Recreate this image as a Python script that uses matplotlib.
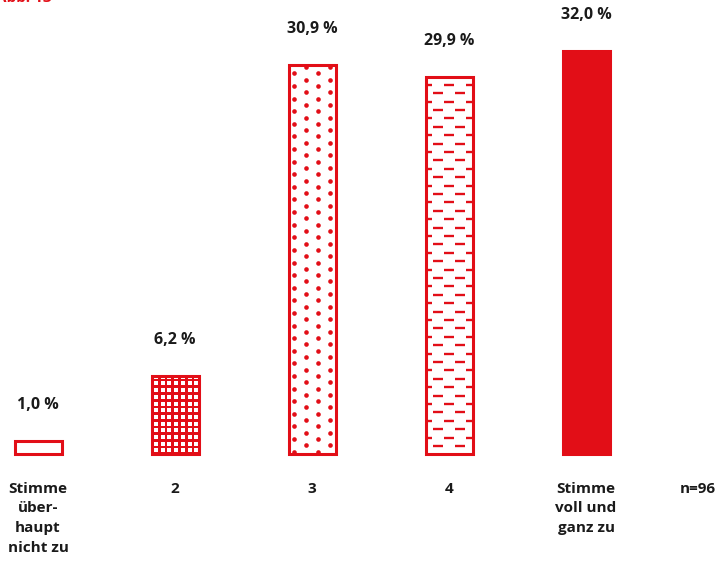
import numpy as np
import matplotlib
matplotlib.use("Agg")
import matplotlib.pyplot as plt

categories = ["Stimme\nüber-\nhaupt\nnicht zu", "2", "3", "4", "Stimme\nvoll und\nganz zu"]
values = [1.0, 6.2, 30.9, 29.9, 32.0]
value_labels = ["1,0 %", "6,2 %", "30,9 %", "29,9 %", "32,0 %"]
patterns = ["none", "grid", "dots", "dashes", "solid"]
note = "n=96"
fig_label = "Abb. 13"

RED = "#e20e17"
TXT = "#1a1a1a"
plt.rcParams['font.family'] = ['Open Sans', 'DejaVu Sans']

W, H = 724, 563
fig = plt.figure(figsize=(W / 100, H / 100), dpi=100)
ax = fig.add_axes([0, 0, 1, 1])
ax.set_axis_off()

# scale: px per data unit
SX = 137.0
SY = 12.6
x0_px = 38.0
base_px = 454.0
ax.set_xlim(-x0_px / SX, (W - x0_px) / SX)
ax.set_ylim(-(H - base_px) / SY, base_px / SY)
PX = 1 / SX
PY = 1 / SY

bw = 47 * PX
xs = np.arange(len(values))

for i, (x, v, pat) in enumerate(zip(xs, values, patterns)):
    fc = RED if pat in ("solid", "grid") else "white"
    bar = ax.bar(x, v, width=bw, color=fc, edgecolor="none", zorder=2)[0]
    left = x - bw / 2
    if pat == "grid":
        step = 6.7
        cxs = np.arange(left + 4.5 * PX, left + bw, step * PX)
        cys = np.arange(3.6 * PY, v, step * PY)
        gx, gy = np.meshgrid(cxs, cys)
        sc = ax.scatter(gx.ravel(), gy.ravel(), marker="s", s=10, color="white",
                        linewidths=0, zorder=3)
        sc.set_clip_path(bar)
    elif pat == "dots":
        rowstep = 6.3
        ys = np.arange(2.5 * PY, v, rowstep * PY)
        px_list, py_list = [], []
        for r, yy in enumerate(ys):
            off = 5 if r % 2 == 0 else 17
            for xx in np.arange(left + off * PX, left + bw, 24 * PX):
                px_list.append(xx)
                py_list.append(yy)
        sc = ax.scatter(px_list, py_list, marker="o", s=11, color=RED,
                        linewidths=0, zorder=3)
        sc.set_clip_path(bar)
    elif pat == "dashes":
        rowstep = 8.4
        ys = np.arange(v - 7.5 * PY, 0, -rowstep * PY)
        for r, yy in enumerate(ys):
            off = 0 if r % 2 == 0 else 11
            for cx in np.arange(x + (off - 66) * PX, x + 66 * PX, 22 * PX):
                ln, = ax.plot([cx - 5 * PX, cx + 5 * PX], [yy, yy], color=RED,
                              lw=1.7, solid_capstyle="butt", zorder=3)
                ln.set_clip_path(bar)
    # outline
    ax.bar(x, v, width=bw, fill=False, edgecolor=RED, linewidth=2.2, zorder=4)
    ax.annotate(value_labels[i], (x, v), xytext=(0, 36 * 0.72), textcoords="offset points",
                ha="center", va="center", fontsize=11.5, fontweight="bold", color=TXT)
    ax.text(x, -28 * PY, categories[i], ha="center", va="top", fontsize=11,
            fontweight="bold", color=TXT, linespacing=1.5)

ax.text((698 - x0_px) * PX, -28 * PY, note, ha="center", va="top", fontsize=11,
        fontweight="bold", color=TXT)

fig.text(-0.005, 1.016, fig_label, ha="left", va="top", fontsize=11,
         fontweight="bold", color=RED)

fig.savefig("out.png", dpi=100)
